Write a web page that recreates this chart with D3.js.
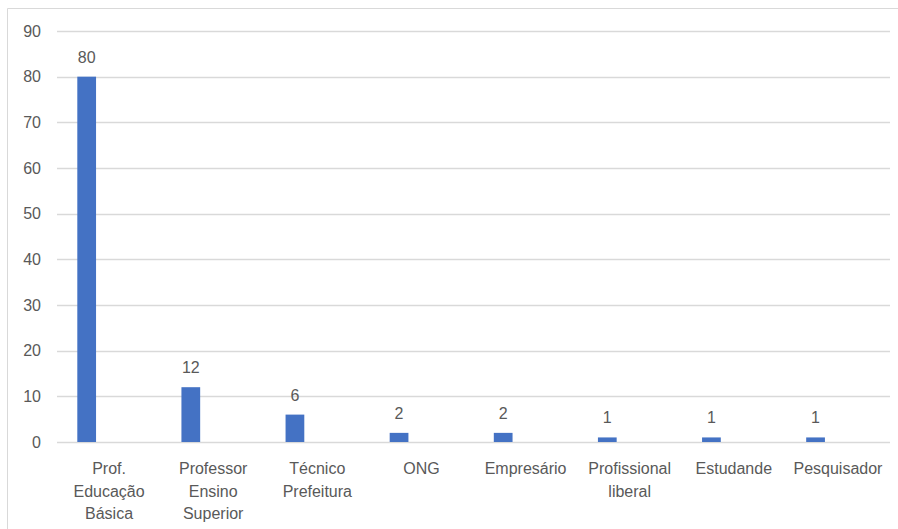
<!DOCTYPE html>
<html>
<head>
<meta charset="utf-8">
<script src="https://cdn.jsdelivr.net/npm/d3@7"></script>
<style>
  body { margin: 0; background: #fff; }
  text { font-family: "Liberation Sans", Arial, sans-serif; fill: #595959; }
</style>
</head>
<body>
<div id="main"></div>
<script>
const ctx = {
    w: 898,
    h: 529
};

// data
const categories = [
    ["Prof.", "Educação", "Básica"],
    ["Professor", "Ensino", "Superior"],
    ["Técnico", "Prefeitura"],
    ["ONG"],
    ["Empresário"],
    ["Profissional", "liberal"],
    ["Estudande"],
    ["Pesquisador"]
];
const values = [80, 12, 6, 2, 2, 1, 1, 1];
const yTicks = [0, 10, 20, 30, 40, 50, 60, 70, 80, 90];

function createViz() {
    const margin = { top: 31, right: 8, bottom: 87, left: 57 };
    const svg = d3.select("#main").append("svg")
        .attr("width", ctx.w)
        .attr("height", ctx.h);

    // outer frame (only top and left visible)
    svg.append("line").attr("x1", 7.5).attr("x2", ctx.w).attr("y1", 8.5).attr("y2", 8.5)
        .attr("stroke", "#d9d9d9").attr("stroke-width", 1);
    svg.append("line").attr("x1", 7.5).attr("x2", 7.5).attr("y1", 8.5).attr("y2", ctx.h)
        .attr("stroke", "#d9d9d9").attr("stroke-width", 1);

    const keys = categories.map((c, i) => i);
    const x = d3.scaleBand()
        .domain(keys)
        .range([margin.left, ctx.w - margin.right])
        .padding(0);

    const y = d3.scaleLinear()
        .domain([0, 90])
        .range([ctx.h - margin.bottom, margin.top]);

    // gridlines
    svg.append("g")
        .selectAll("line")
        .data(yTicks)
        .join("line")
        .attr("x1", margin.left)
        .attr("x2", ctx.w - margin.right)
        .attr("y1", d => Math.round(y(d)) + 0.5)
        .attr("y2", d => Math.round(y(d)) + 0.5)
        .attr("stroke", "#d9d9d9")
        .attr("stroke-width", 1.3);

    // y axis labels
    const yAxis = svg.append("g")
        .attr("transform", `translate(${margin.left},0)`)
        .call(d3.axisLeft(y).tickValues(yTicks).tickSize(0).tickPadding(16));
    yAxis.select(".domain").remove();
    yAxis.selectAll("text")
        .style("font-size", "16px")
        .style("font-family", "Liberation Sans, Arial, sans-serif")
        .attr("fill", "#595959");

    const bw = x.bandwidth();
    const barW = bw * 0.18;
    const barOff = bw * 0.195;

    // bars
    svg.append("g")
        .selectAll("rect")
        .data(values)
        .join("rect")
        .attr("x", (d, i) => x(i) + barOff)
        .attr("y", d => y(d))
        .attr("width", barW)
        .attr("height", d => y(0) - y(d))
        .attr("fill", "#4472c4");

    // value labels
    svg.append("g")
        .selectAll("text")
        .data(values)
        .join("text")
        .attr("x", (d, i) => x(i) + barOff + barW / 2)
        .attr("y", d => y(d) - 14)
        .attr("text-anchor", "middle")
        .style("font-size", "16px")
        .text(d => d);

    // category labels
    const cat = svg.append("g")
        .selectAll("text")
        .data(categories)
        .join("text")
        .attr("text-anchor", "middle")
        .style("font-size", "16px");
    cat.each(function (lines, i) {
        d3.select(this).selectAll("tspan")
            .data(lines)
            .join("tspan")
            .attr("x", x(i) + bw / 2)
            .attr("y", (l, j) => 474 + j * 22.5)
            .text(l => l);
    });
}

createViz();
</script>
</body>
</html>
